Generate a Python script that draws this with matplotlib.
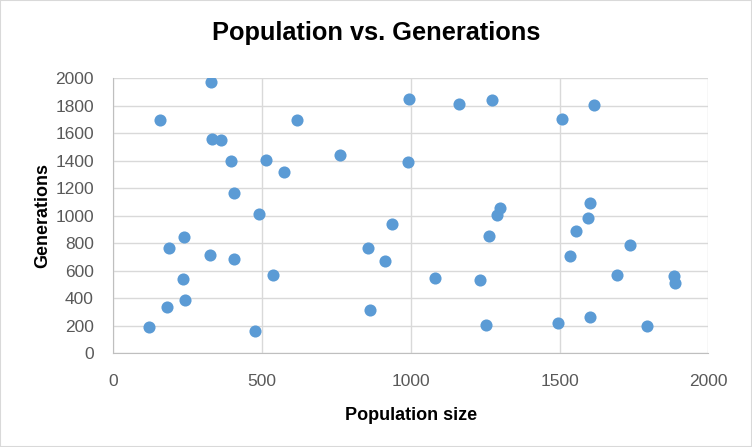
import matplotlib
matplotlib.use("Agg")
import matplotlib.pyplot as plt
from matplotlib.patches import Rectangle

# population size vs generations
population = [327, 156, 617, 331, 363, 396, 512, 573, 405, 491,
              238, 186, 325, 405, 536, 233, 241, 180, 119, 475,
              994, 1162, 1272, 762, 990, 1300, 1289, 936, 1262, 855,
              913, 1080, 1232, 862, 1252, 1616, 1507, 1601, 1595, 1555,
              1736, 1534, 1692, 1884, 1887, 1601, 1496, 1794]
generations = [1971, 1695, 1695, 1557, 1550, 1399, 1404, 1319, 1165, 1012,
               847, 765, 716, 685, 571, 540, 387, 336, 193, 164,
               1847, 1813, 1840, 1441, 1392, 1053, 1005, 939, 852, 767,
               671, 547, 532, 317, 206, 1806, 1702, 1092, 985, 888,
               789, 709, 571, 564, 511, 266, 220, 198]

x_ticks = [0, 500, 1000, 1500, 2000]
y_ticks = list(range(0, 2001, 200))

plt.rcParams['font.family'] = ['Liberation Sans', 'DejaVu Sans']

fig = plt.figure(figsize=(7.52, 4.47), dpi=100)
ax = fig.add_axes([113.3 / 752, 1 - 353.3 / 447, 595 / 752, 275.3 / 447])

ax.scatter(population, generations, s=76, color='#5B9BD5', zorder=3, linewidths=0)

ax.set_xlim(0, 2000)
ax.set_ylim(0, 2000)
ax.set_xticks(x_ticks)
ax.set_yticks(y_ticks)
ax.grid(True, color='#D9D9D9', linewidth=1)
ax.set_axisbelow(True)
for side in ['top', 'right']:
    ax.spines[side].set_visible(False)
for side in ['left', 'bottom']:
    ax.spines[side].set_color('#BFBFBF')
ax.tick_params(length=0, labelsize=12.5, labelcolor='#595959')
ax.tick_params(axis='x', pad=15)
ax.tick_params(axis='y', pad=14)

fig.text(0.5, 1 - 33 / 447, 'Population vs. Generations', fontsize=18.3,
         fontweight='bold', ha='center', va='center')
ax.set_xlabel('Population size', fontsize=13, fontweight='bold', labelpad=13)
ax.set_ylabel('Generations', fontsize=13, fontweight='bold', labelpad=3)

fig.patches.append(Rectangle((0, 0), 1, 1, transform=fig.transFigure, fill=False,
                             edgecolor='#D9D9D9', linewidth=1.5))

fig.savefig('out.png', dpi=100)
